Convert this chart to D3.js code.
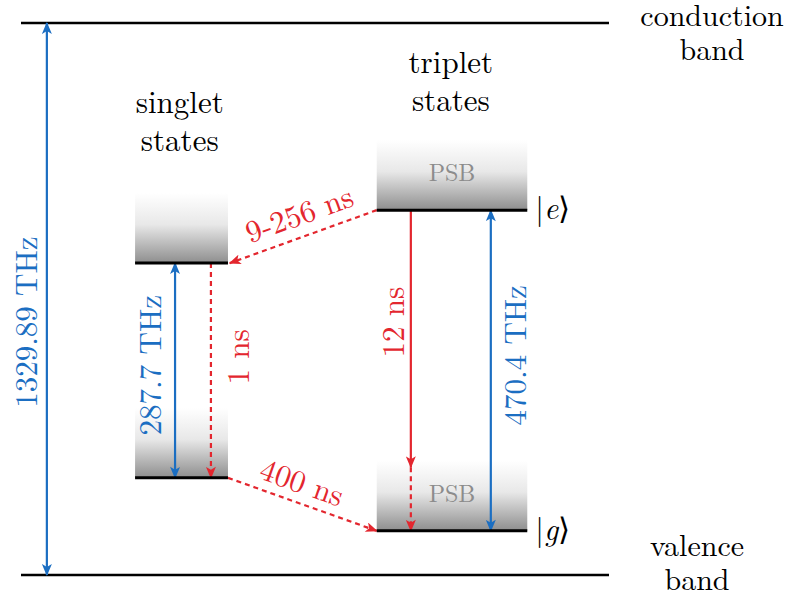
<!DOCTYPE html>
<html>
<head>
<meta charset="utf-8">
<script src="https://cdn.jsdelivr.net/npm/d3@7"></script>
<style>
  body { margin: 0; background: #fff; }
</style>
</head>
<body>
<div id="chart"></div>
<script>
// diagram units: x 0..100 across the bands, energy 0 (valence) .. 100 (conduction)
const bands = [
  { name: "conduction", label: ["conduction", "band"], e: 100 },
  { name: "valence", label: ["valence", "band"], e: 0 }
];
const levels = [
  { name: "S1", x0: 19.4, x1: 35.2, e: 56.5, psb: false },
  { name: "S0", x0: 19.4, x1: 35.2, e: 17.6, psb: false },
  { name: "e", x0: 60.5, x1: 86.1, e: 66.1, psb: true, ket: "e" },
  { name: "g", x0: 60.5, x1: 86.1, e: 8.0, psb: true, ket: "g" }
];
const bandWidth = 12.7;
// vertical transitions: x, from-energy, to-energy, kind
const transitions = [
  { x: 4.4, from: 0, to: 100, color: "blue", dash: false, both: true, label: "1329.89 THz", lx: 0.85, le: 45.8 },
  { x: 26.2, from: 17.6, to: 56.5, color: "blue", dash: false, both: true, label: "287.7 THz", lx: 21.9, le: 38.0 },
  { x: 32.3, from: 56.5, to: 17.6, color: "red", dash: true, both: false, label: "1 ns", lx: 36.9, le: 39.5 },
  { x: 66.3, from: 66.1, to: 19.5, color: "red", dash: false, both: false, label: "12 ns", lx: 63.3, le: 45.8 },
  { x: 66.3, from: 19.5, to: 8.0, color: "red", dash: true, both: false, label: null },
  { x: 79.9, from: 8.0, to: 66.1, color: "blue", dash: false, both: true, label: "470.4 THz", lx: 84.0, le: 39.8 }
];
// intersystem crossings
const crossings = [
  { x0: 60.5, e0: 66.1, x1: 35.5, e1: 56.5, label: "9-256 ns", lx: 47.3, le: 65.4 },
  { x0: 35.2, e0: 17.6, x1: 60.5, e1: 8.0, label: "400 ns", lx: 47.8, le: 16.8 }
];
const stateLabels = [
  { lines: ["singlet", "states"], x: 27.0, e: 83.7 },
  { lines: ["triplet", "states"], x: 73.1, e: 91.0 }
];

const colors = { blue: "#1b6ec2", red: "#e3262e", psb: "#8c8c8c" };
const font = '"Latin Modern Roman", "Liberation Serif", serif';

const W = 792, H = 599;
const x = d3.scaleLinear().domain([0, 100]).range([21, 609]);
const y = d3.scaleLinear().domain([0, 100]).range([575, 23]);

const svg = d3.select("#chart").append("svg")
  .attr("width", W).attr("height", H)
  .attr("viewBox", `0 0 ${W} ${H}`)
  .style("font-family", font);

const defs = svg.append("defs");
const grad = defs.append("linearGradient")
  .attr("id", "psbgrad").attr("x1", 0).attr("y1", 0).attr("x2", 0).attr("y2", 1);
grad.append("stop").attr("offset", "0%").attr("stop-color", "#ffffff");
grad.append("stop").attr("offset", "45%").attr("stop-color", "#e8e8e8");
grad.append("stop").attr("offset", "100%").attr("stop-color", "#8e8e8e");

Object.entries({ blue: colors.blue, red: colors.red }).forEach(([k, c]) => {
  defs.append("marker")
    .attr("id", "head-" + k)
    .attr("viewBox", "0 0 12 10")
    .attr("refX", 11).attr("refY", 5)
    .attr("markerWidth", 13).attr("markerHeight", 10)
    .attr("markerUnits", "userSpaceOnUse")
    .attr("orient", "auto-start-reverse")
    .append("path")
    .attr("d", "M0,0 L12,5 L0,10 L3,5 Z")
    .attr("fill", c);
});

// gradient blocks behind levels
svg.append("g").selectAll("rect")
  .data(levels)
  .join("rect")
  .attr("x", d => x(d.x0))
  .attr("width", d => x(d.x1) - x(d.x0))
  .attr("y", d => y(d.e + bandWidth))
  .attr("height", d => y(d.e) - y(d.e + bandWidth))
  .attr("fill", "url(#psbgrad)");

svg.append("g").selectAll("text")
  .data(levels.filter(d => d.psb))
  .join("text")
  .attr("x", d => (x(d.x0) + x(d.x1)) / 2)
  .attr("y", d => y(d.e + bandWidth / 2) + 6)
  .attr("text-anchor", "middle")
  .attr("font-size", 24)
  .attr("fill", colors.psb)
  .text("PSB");

// bands
svg.append("g").selectAll("line")
  .data(bands)
  .join("line")
  .attr("x1", x(0)).attr("x2", x(100))
  .attr("y1", d => y(d.e)).attr("y2", d => y(d.e))
  .attr("stroke", "#000").attr("stroke-width", 2.6);

// band names, one text per line
const bandLines = bands.flatMap(b => b.label.map((l, i) => ({
  l,
  cx: b.name === "conduction" ? 712 : 697,
  by: (b.name === "conduction" ? 26 : 556) + i * 34
})));
svg.append("g").selectAll("text")
  .data(bandLines)
  .join("text")
  .attr("text-anchor", "middle")
  .attr("font-size", 30)
  .attr("x", d => d.cx)
  .attr("y", d => d.by)
  .text(d => d.l);

// transitions
svg.append("g").selectAll("line")
  .data(transitions)
  .join("line")
  .attr("x1", d => x(d.x)).attr("x2", d => x(d.x))
  .attr("y1", d => y(d.from)).attr("y2", d => y(d.to))
  .attr("stroke", d => colors[d.color])
  .attr("stroke-width", 2.2)
  .attr("stroke-dasharray", d => d.dash ? "5,4" : null)
  .attr("marker-end", d => `url(#head-${d.color})`)
  .attr("marker-start", d => d.both ? `url(#head-${d.color})` : null);

svg.append("g").selectAll("text")
  .data(transitions.filter(d => d.label))
  .join("text")
  .attr("transform", d => `translate(${x(d.lx)},${y(d.le)}) rotate(-90)`)
  .attr("text-anchor", "middle")
  .attr("dy", "0.35em")
  .attr("font-size", 31)
  .attr("fill", d => colors[d.color])
  .text(d => d.label);

// crossings
svg.append("g").selectAll("line")
  .data(crossings)
  .join("line")
  .attr("x1", d => x(d.x0)).attr("y1", d => y(d.e0))
  .attr("x2", d => x(d.x1)).attr("y2", d => y(d.e1))
  .attr("stroke", colors.red)
  .attr("stroke-width", 2.2)
  .attr("stroke-dasharray", "5,4")
  .attr("marker-end", "url(#head-red)");

svg.append("g").selectAll("text")
  .data(crossings)
  .join("text")
  .attr("transform", d => {
    const ang = Math.atan2(y(d.e1) - y(d.e0), x(d.x1) - x(d.x0)) * 180 / Math.PI;
    const a = Math.abs(ang) > 90 ? ang - 180 : ang;
    return `translate(${x(d.lx)},${y(d.le)}) rotate(${a})`;
  })
  .attr("text-anchor", "middle")
  .attr("dy", "0.35em")
  .attr("font-size", 31)
  .attr("fill", colors.red)
  .text(d => d.label);

// levels
svg.append("g").selectAll("line")
  .data(levels)
  .join("line")
  .attr("x1", d => x(d.x0)).attr("x2", d => x(d.x1))
  .attr("y1", d => y(d.e)).attr("y2", d => y(d.e))
  .attr("stroke", "#000").attr("stroke-width", 3);

// kets
svg.append("g").selectAll("text")
  .data(levels.filter(d => d.ket))
  .join("text")
  .attr("x", d => x(d.x1) + 8)
  .attr("y", d => y(d.e) + 9)
  .attr("font-size", 31)
  .html(d => `|<tspan font-style="italic">${d.ket}</tspan>\u27E9`);

// state labels, one text per line
const stateLines = stateLabels.flatMap(s => s.lines.map((l, i) => ({ l, cx: x(s.x), by: y(s.e) + i * 38 })));
svg.append("g").selectAll("text")
  .data(stateLines)
  .join("text")
  .attr("text-anchor", "middle")
  .attr("font-size", 31)
  .attr("x", d => d.cx)
  .attr("y", d => d.by)
  .text(d => d.l);
</script>
</body>
</html>
